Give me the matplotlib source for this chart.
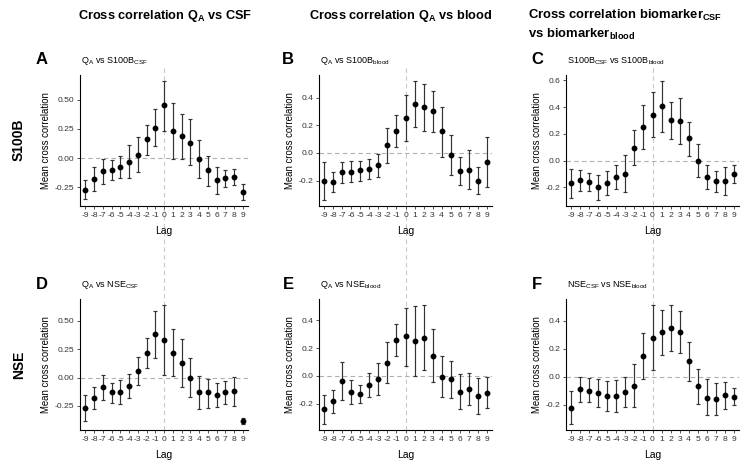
import matplotlib
matplotlib.use("Agg")
import matplotlib.pyplot as plt
import numpy as np
from matplotlib.lines import Line2D
from matplotlib.transforms import blended_transform_factory

plt.rcParams['font.family'] = 'Liberation Sans'
plt.rcParams['mathtext.fontset'] = 'custom'
plt.rcParams['mathtext.rm'] = 'Liberation Sans'
plt.rcParams['mathtext.bf'] = 'Liberation Sans:bold'
plt.rcParams['mathtext.it'] = 'Liberation Sans:italic'

lags = np.arange(-9, 10)

# A: Q_A vs S100B_CSF
a_mean = [-0.27, -0.18, -0.11, -0.10, -0.08, -0.03, 0.03, 0.16, 0.26, 0.45,
          0.23, 0.19, 0.13, -0.01, -0.10, -0.19, -0.17, -0.16, -0.29]
a_lo = [-0.35, -0.28, -0.22, -0.19, -0.17, -0.17, -0.12, 0.03, 0.10, 0.23,
        -0.01, -0.01, -0.06, -0.17, -0.24, -0.31, -0.25, -0.23, -0.36]
a_hi = [-0.19, -0.08, -0.01, -0.02, 0.02, 0.11, 0.18, 0.28, 0.42, 0.66,
        0.47, 0.38, 0.33, 0.15, 0.02, -0.08, -0.10, -0.09, -0.22]

# B: Q_A vs S100B_blood
b_mean = [-0.20, -0.21, -0.14, -0.135, -0.125, -0.115, -0.09, 0.055, 0.16, 0.255,
          0.355, 0.33, 0.30, 0.155, -0.012, -0.13, -0.125, -0.20, -0.065]
b_lo = [-0.34, -0.28, -0.22, -0.21, -0.20, -0.19, -0.17, -0.07, 0.045, 0.09,
        0.19, 0.16, 0.15, -0.03, -0.16, -0.23, -0.26, -0.295, -0.245]
b_hi = [-0.065, -0.14, -0.065, -0.06, -0.055, -0.045, -0.005, 0.18, 0.275, 0.42,
        0.52, 0.50, 0.45, 0.335, 0.13, -0.03, 0.02, -0.10, 0.115]

# C: S100B_CSF vs S100B_blood
c_mean = [-0.17, -0.145, -0.16, -0.20, -0.17, -0.12, -0.10, 0.095, 0.25, 0.34,
          0.405, 0.30, 0.295, 0.165, 0.00, -0.12, -0.155, -0.15, -0.10]
c_lo = [-0.28, -0.225, -0.225, -0.295, -0.26, -0.21, -0.235, -0.035, 0.085, 0.175,
        0.215, 0.16, 0.125, 0.035, -0.125, -0.215, -0.235, -0.255, -0.17]
c_hi = [-0.06, -0.07, -0.095, -0.11, -0.075, -0.03, 0.04, 0.23, 0.415, 0.51,
        0.595, 0.44, 0.465, 0.29, 0.125, -0.03, -0.08, -0.045, -0.03]

# D: Q_A vs NSE_CSF
d_mean = [-0.265, -0.18, -0.085, -0.13, -0.13, -0.075, 0.055, 0.215, 0.38, 0.335,
          0.22, 0.125, 0.00, -0.13, -0.13, -0.15, -0.125, -0.12, -0.385]
d_lo = [-0.385, -0.28, -0.195, -0.225, -0.235, -0.18, -0.07, 0.085, 0.17, 0.025,
        0.01, -0.085, -0.17, -0.28, -0.265, -0.26, -0.23, -0.25, -0.41]
d_hi = [-0.15, -0.08, 0.02, -0.045, -0.025, 0.03, 0.185, 0.35, 0.585, 0.64,
        0.425, 0.34, 0.17, 0.01, -0.01, -0.045, -0.03, 0.005, -0.355]

# E: Q_A vs NSE_blood
e_mean = [-0.24, -0.18, -0.035, -0.115, -0.13, -0.065, -0.02, 0.095, 0.26, 0.285,
          0.25, 0.275, 0.145, -0.005, -0.02, -0.115, -0.09, -0.145, -0.12]
e_lo = [-0.345, -0.265, -0.175, -0.20, -0.195, -0.15, -0.135, -0.05, 0.14, 0.075,
        0.00, 0.04, -0.045, -0.15, -0.155, -0.235, -0.21, -0.275, -0.23]
e_hi = [-0.135, -0.10, 0.10, -0.03, -0.065, 0.02, 0.09, 0.245, 0.375, 0.49,
        0.50, 0.51, 0.335, 0.14, 0.11, 0.015, 0.025, -0.015, -0.005]

# F: NSE_CSF vs NSE_blood
f_mean = [-0.225, -0.09, -0.10, -0.12, -0.14, -0.14, -0.11, -0.065, 0.145, 0.28,
          0.32, 0.35, 0.32, 0.11, -0.07, -0.15, -0.16, -0.135, -0.145]
f_lo = [-0.34, -0.185, -0.185, -0.22, -0.245, -0.255, -0.215, -0.215, -0.02, 0.045,
        0.155, 0.185, 0.17, -0.03, -0.195, -0.275, -0.275, -0.235, -0.205]
f_hi = [-0.105, -0.005, -0.01, -0.02, -0.03, -0.025, -0.005, 0.09, 0.315, 0.515,
        0.48, 0.515, 0.47, 0.25, 0.055, -0.02, -0.045, -0.035, -0.08]

panels = [
    ('A', r'Q$_\mathrm{A}$ vs S100B$_\mathrm{CSF}$', a_mean, a_lo, a_hi, [-0.25, 0, 0.25, 0.5], '%.2f'),
    ('B', r'Q$_\mathrm{A}$ vs S100B$_\mathrm{blood}$', b_mean, b_lo, b_hi, [-0.2, 0, 0.2, 0.4], '%.1f'),
    ('C', r'S100B$_\mathrm{CSF}$ vs S100B$_\mathrm{blood}$', c_mean, c_lo, c_hi, [-0.2, 0, 0.2, 0.4, 0.6], '%.1f'),
    ('D', r'Q$_\mathrm{A}$ vs NSE$_\mathrm{CSF}$', d_mean, d_lo, d_hi, [-0.25, 0, 0.25, 0.5], '%.2f'),
    ('E', r'Q$_\mathrm{A}$ vs NSE$_\mathrm{blood}$', e_mean, e_lo, e_hi, [-0.2, 0, 0.2, 0.4], '%.1f'),
    ('F', r'NSE$_\mathrm{CSF}$ vs NSE$_\mathrm{blood}$', f_mean, f_lo, f_hi, [-0.2, 0, 0.2, 0.4], '%.1f'),
]

W, H = 741, 461
fig = plt.figure(figsize=(W / 100, H / 100), dpi=100)

col_x = [(80, 168), (319, 173), (566, 173)]
row_y = [(75, 131), (299, 131)]
letter_x = [42, 288, 537]

axes = []
for i, (letter, sub, m, lo, hi, yt, fmt) in enumerate(panels):
    r, c = divmod(i, 3)
    x0, w = col_x[c]
    y0, h = row_y[r]
    ax = fig.add_axes([x0 / W, 1 - (y0 + h) / H, w / W, h / H])
    ax.patch.set_alpha(0)
    m = np.array(m); lo = np.array(lo); hi = np.array(hi)
    ax.axhline(0, color='#b0b0b0', lw=0.8, ls=(0, (4, 3)), zorder=1)
    ax.errorbar(lags, m, yerr=[m - lo, hi - m], fmt='o', color='black', ms=3.2,
                ecolor='#333333', elinewidth=0.85, capsize=1.6, capthick=0.85, zorder=3)
    span = hi.max() - lo.min()
    ax.set_ylim(lo.min() - 0.05 * span, hi.max() + 0.05 * span)
    ax.set_xlim(-9.6, 9.6)
    ax.set_xticks(lags)
    ax.set_xticklabels([str(v) for v in lags])
    ax.set_yticks(yt)
    ax.set_yticklabels([fmt % v for v in yt])
    for s in ['top', 'right']:
        ax.spines[s].set_visible(False)
    for s in ['left', 'bottom']:
        ax.spines[s].set_linewidth(0.8)
    ax.tick_params(labelsize=6.1, length=2.5, width=0.6, pad=1.5, colors='#333333')
    ax.set_xlabel('Lag', fontsize=7.5, labelpad=5)
    ax.set_ylabel('Mean cross correlation', fontsize=6.9, labelpad=3)
    fig.text(letter_x[c] / W, 1 - (y0 - 15) / H, letter, fontsize=12, fontweight='bold',
             ha='center', va='center')
    fig.text((x0 + 1) / W, 1 - (y0 - 14) / H, sub, fontsize=6.5, ha='left', va='center')
    axes.append(ax)

# dashed vertical line at lag 0 spanning both rows of each column
for c in range(3):
    tr = blended_transform_factory(axes[c].transData, fig.transFigure)
    fig.add_artist(Line2D([0, 0], [1 - 68 / H, 1 - 430 / H], transform=tr,
                          color='#c8c8c8', lw=0.8, ls=(0, (4, 3)), zorder=0))

fig.text(78 / W, 1 - 19 / H, r'Cross correlation Q$_\mathbf{A}$ vs CSF', fontsize=9.2,
         fontweight='bold', ha='left', va='baseline')
fig.text(309 / W, 1 - 19 / H, r'Cross correlation Q$_\mathbf{A}$ vs blood', fontsize=9.2,
         fontweight='bold', ha='left', va='baseline')
fig.text(528 / W, 1 - 19 / H, r'Cross correlation biomarker$_\mathbf{CSF}$', fontsize=9.4,
         fontweight='bold', ha='left', va='baseline')
fig.text(528 / W, 1 - 38 / H, r'vs biomarker$_\mathbf{blood}$', fontsize=9.4,
         fontweight='bold', ha='left', va='baseline')

fig.text(19 / W, 1 - 140 / H, 'S100B', fontsize=10, fontweight='bold', rotation=90,
         ha='center', va='center')
fig.text(19 / W, 1 - 365 / H, 'NSE', fontsize=10, fontweight='bold', rotation=90,
         ha='center', va='center')

fig.savefig('out.png', dpi=100)
